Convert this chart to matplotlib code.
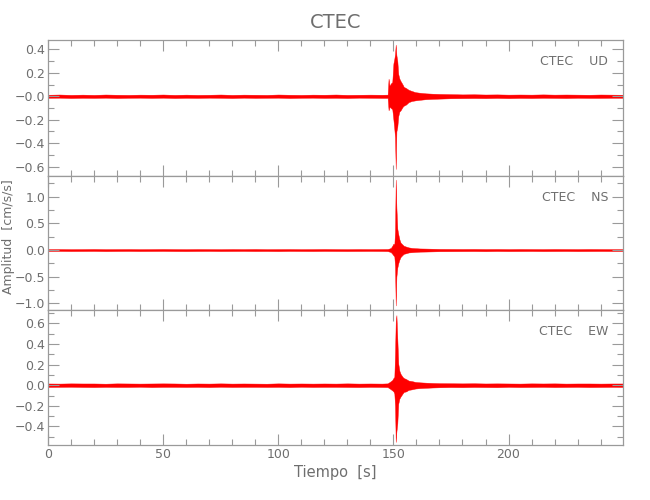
import matplotlib
matplotlib.use("Agg")
import matplotlib.pyplot as plt
from matplotlib.ticker import MultipleLocator

# ---- data: trace envelope (max / min per time knot) ----
t_knots = [0, 5, 10, 15, 20, 25, 30, 35, 40, 45, 50, 55, 60, 65, 70, 75, 80, 85, 90,
           95, 100, 105, 110, 115, 120, 125, 130, 135, 140, 145,
           147.5, 147.9, 148.3, 148.9, 149.5, 150.0, 150.4, 150.7, 151.0, 151.3,
           151.7, 152.1, 152.6, 153.1, 154.0, 154.5, 155.5, 156.6, 158.0, 159.5,
           161.5, 164, 167, 170,
           175, 180, 185, 190, 195, 200, 205, 210, 215, 220, 225, 230, 235, 240, 245, 250]

ud_hi = [0.013, 0.015, 0.012, 0.014, 0.012, 0.015, 0.013, 0.012, 0.014, 0.013, 0.015, 0.012,
         0.014, 0.012, 0.013, 0.015, 0.012, 0.014, 0.013, 0.012, 0.015, 0.013, 0.012, 0.014,
         0.013, 0.015, 0.012, 0.013, 0.014, 0.013,
         0.014, 0.15, 0.09, 0.11, 0.12, 0.28, 0.32, 0.36, 0.44, 0.35,
         0.30, 0.19, 0.15, 0.13, 0.10, 0.08, 0.07, 0.055, 0.045, 0.035,
         0.030, 0.025, 0.022, 0.020,
         0.018, 0.016, 0.017, 0.015, 0.016, 0.014, 0.015, 0.014, 0.016, 0.014, 0.015, 0.014,
         0.013, 0.015, 0.014, 0.013]
ud_lo = [-0.013, -0.012, -0.015, -0.013, -0.014, -0.012, -0.015, -0.013, -0.012, -0.014,
         -0.012, -0.015, -0.013, -0.014, -0.012, -0.013, -0.015, -0.012, -0.014, -0.013,
         -0.012, -0.015, -0.013, -0.012, -0.014, -0.013, -0.015, -0.012, -0.013, -0.014,
         -0.014, -0.12, -0.09, -0.10, -0.11, -0.20, -0.28, -0.35, -0.62, -0.30,
         -0.26, -0.17, -0.13, -0.12, -0.09, -0.08, -0.07, -0.05, -0.040, -0.035,
         -0.030, -0.025, -0.022, -0.020,
         -0.017, -0.016, -0.015, -0.016, -0.014, -0.016, -0.014, -0.015, -0.013, -0.014,
         -0.015, -0.013, -0.014, -0.014, -0.013, -0.013]

ns_hi = [0.018, 0.019, 0.017, 0.018, 0.020, 0.017, 0.018, 0.019, 0.017, 0.018, 0.020, 0.018,
         0.017, 0.019, 0.018, 0.017, 0.019, 0.018, 0.020, 0.017, 0.018, 0.019, 0.017, 0.018,
         0.020, 0.018, 0.017, 0.019, 0.018, 0.019,
         0.020, 0.025, 0.030, 0.040, 0.08, 0.12, 0.10, 0.35, 1.32, 0.80,
         0.40, 0.30, 0.20, 0.14, 0.10, 0.08, 0.065, 0.050, 0.040, 0.035,
         0.030, 0.028, 0.025, 0.022,
         0.021, 0.020, 0.021, 0.019, 0.020, 0.018, 0.020, 0.019, 0.018, 0.020, 0.019, 0.018,
         0.020, 0.019, 0.018, 0.018]
ns_lo = [-0.018, -0.017, -0.019, -0.018, -0.017, -0.020, -0.018, -0.017, -0.019, -0.018,
         -0.017, -0.019, -0.020, -0.018, -0.017, -0.019, -0.018, -0.017, -0.019, -0.018,
         -0.020, -0.017, -0.018, -0.019, -0.017, -0.018, -0.019, -0.018, -0.017, -0.018,
         -0.020, -0.025, -0.030, -0.040, -0.07, -0.10, -0.12, -0.30, -1.04, -0.50,
         -0.33, -0.25, -0.18, -0.13, -0.09, -0.07, -0.06, -0.045, -0.040, -0.035,
         -0.030, -0.028, -0.025, -0.022,
         -0.021, -0.020, -0.019, -0.021, -0.018, -0.020, -0.019, -0.018, -0.020, -0.019,
         -0.018, -0.020, -0.019, -0.018, -0.019, -0.018]

ew_hi = [0.017, 0.016, 0.018, 0.017, 0.017, 0.015, 0.018, 0.017, 0.016, 0.017, 0.018, 0.017,
         0.015, 0.017, 0.016, 0.018, 0.016, 0.017, 0.016, 0.015, 0.018, 0.016, 0.017, 0.016,
         0.017, 0.016, 0.018, 0.016, 0.017, 0.016,
         0.018, 0.025, 0.030, 0.040, 0.05, 0.07, 0.08, 0.30, 0.62, 0.68,
         0.45, 0.21, 0.14, 0.11, 0.08, 0.07, 0.06, 0.045, 0.040, 0.032,
         0.028, 0.025, 0.022, 0.020,
         0.019, 0.018, 0.019, 0.017, 0.018, 0.017, 0.016, 0.018, 0.017, 0.018, 0.016, 0.017,
         0.017, 0.016, 0.017, 0.017]
ew_lo = [-0.017, -0.016, -0.015, -0.017, -0.018, -0.016, -0.017, -0.017, -0.015, -0.018,
         -0.016, -0.016, -0.017, -0.016, -0.018, -0.015, -0.017, -0.016, -0.016, -0.017,
         -0.016, -0.018, -0.015, -0.017, -0.016, -0.016, -0.017, -0.018, -0.016, -0.017,
         -0.018, -0.025, -0.030, -0.040, -0.05, -0.06, -0.08, -0.20, -0.55, -0.45,
         -0.37, -0.18, -0.13, -0.11, -0.08, -0.065, -0.06, -0.045, -0.040, -0.032,
         -0.028, -0.025, -0.022, -0.020,
         -0.018, -0.019, -0.017, -0.018, -0.019, -0.016, -0.018, -0.017, -0.016, -0.018,
         -0.017, -0.016, -0.018, -0.017, -0.016, -0.017]

station = "CTEC"
components = ["UD", "NS", "EW"]
ylims = [(-0.68, 0.48), (-1.125, 1.39), (-0.58, 0.73)]
ud_ticks = [0.4, 0.2, 0.0, -0.2, -0.4, -0.6]
ud_ticklabels = ["0.4", "0.2", "\u22120.0", "\u22120.2", "\u22120.4", "\u22120.6"]
ns_ticks = [1.0, 0.5, 0.0, -0.5, -1.0]
ns_ticklabels = ["1.0", "0.5", "0.0", "\u22120.5", "\u22121.0"]
ew_ticks = [0.6, 0.4, 0.2, 0.0, -0.2, -0.4]
ew_ticklabels = ["0.6", "0.4", "0.2", "0.0", "\u22120.2", "\u22120.4"]
yminor = [0.1, 0.25, 0.1]
xmax = 249.7
title = "CTEC"
xlabel = "Tiempo  [s]"
ylabel = "Amplitud  [cm/s/s]"

GRAY = "#6e6e6e"
FRAME = "#9a9a9a"
RED = "#ff0000"
plt.rcParams["font.family"] = ["Liberation Sans Narrow", "DejaVu Sans"]

fig = plt.figure(figsize=(6.5, 5.0), dpi=100)
L, R = 48, 623
W = (R - L) / 650
rows = [(40, 176), (176, 310), (310, 445)]
series = [(ud_hi, ud_lo), (ns_hi, ns_lo), (ew_hi, ew_lo)]
yticks = [(ud_ticks, ud_ticklabels), (ns_ticks, ns_ticklabels), (ew_ticks, ew_ticklabels)]

axes = []
for i, ((top, bot), (hi, lo)) in enumerate(zip(rows, series)):
    ax = fig.add_axes([L / 650, 1 - bot / 500, W, (bot - top) / 500])
    ax.fill_between(t_knots, lo, hi, color=RED, linewidth=0.3, edgecolor=RED)
    ax.set_xlim(0, xmax)
    ax.set_ylim(*ylims[i])
    ax.xaxis.set_major_locator(MultipleLocator(50))
    ax.xaxis.set_minor_locator(MultipleLocator(10))
    ax.set_yticks(yticks[i][0])
    ax.set_yticklabels(yticks[i][1])
    ax.yaxis.set_minor_locator(MultipleLocator(yminor[i]))
    ax.tick_params(which="both", direction="in", top=True, right=True,
                   color=FRAME, labelcolor=GRAY, labelsize=9, width=0.8, pad=2)
    ax.tick_params(which="major", length=8)
    ax.tick_params(which="minor", length=4)
    for s in ax.spines.values():
        s.set_color(FRAME)
        s.set_linewidth(0.9)
    if i < 2:
        ax.tick_params(labelbottom=False)
    ax.text(0.974, 0.84, f"{station}    {components[i]}", transform=ax.transAxes,
            ha="right", va="center", color=GRAY, fontsize=9)
    axes.append(ax)

axes[-1].set_xlabel(xlabel, color=GRAY, fontsize=10.5, labelpad=3)
fig.text((L + R) / 2 / 650, 1 - 22 / 500, title, ha="center", va="center",
         color=GRAY, fontsize=14)
fig.text(9 / 650, 1 - 237 / 500, ylabel, rotation=90, ha="center", va="center",
         color=GRAY, fontsize=9)

fig.savefig("out.png", dpi=100)
